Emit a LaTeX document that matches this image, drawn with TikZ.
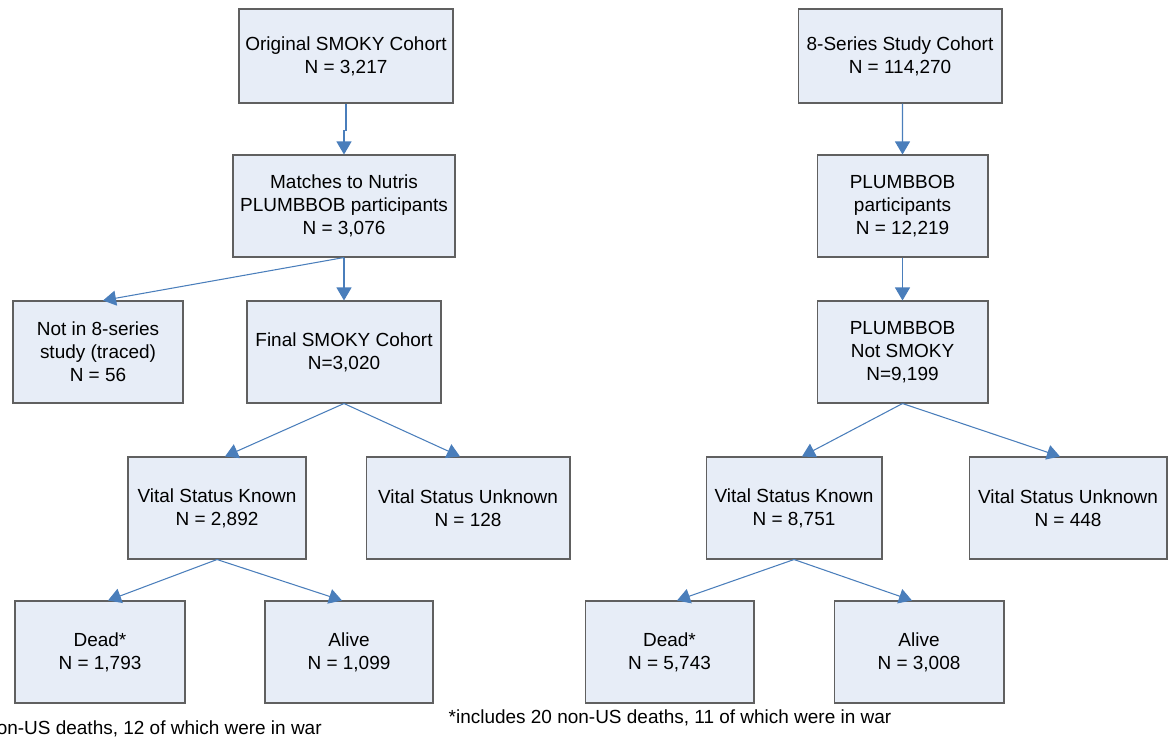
\documentclass[tikz,border=0pt]{standalone}
\usepackage{fontspec}
\setmainfont{Liberation Sans}
\usetikzlibrary{arrows.meta}
\definecolor{boxfill}{RGB}{231,237,247}
\definecolor{boxline}{RGB}{96,96,96}
\definecolor{linkblue}{RGB}{74,126,187}
\tikzset{
  box/.style={shape=rectangle, draw=boxline, fill=boxfill, line width=0.6pt, align=center,
    inner sep=0pt, minimum height=2.04cm, font=\fontsize{10.8}{13.1}\selectfont},
  link/.style={draw=linkblue, line width=0.6pt, -{Triangle[length=0.26cm,width=0.3cm]}},
  note/.style={font=\fontsize{10.8}{13.1}\selectfont, inner sep=0pt}
}
\begin{document}
\begin{tikzpicture}[x=0.02cm,y=-0.02cm]
            \useasboundingbox (0,0) rectangle (1175,741);
            % left tree
            \node[box, minimum width=4.28cm, minimum height=1.88cm] (orig) at (346,56) {Original SMOKY Cohort\\N = 3,217};
            \node[box, minimum width=4.44cm] (match) at (344,206) {Matches to Nutris\\PLUMBBOB participants\\N = 3,076};
            \node[box, minimum width=3.40cm] (notin) at (98,352) {Not in 8-series\\study (traced)\\N = 56};
            \node[box, minimum width=3.88cm] (final) at (344,352) {Final SMOKY Cohort\\N=3,020};
            \node[box, minimum width=3.56cm] (knownL) at (217,508) {Vital Status Known\\N = 2,892};
            \node[box, minimum width=4.08cm] (unknownL) at (468,508) {Vital Status Unknown\\N = 128};
            \node[box, minimum width=3.40cm] (deadL) at (100,652) {Dead*\\N = 1,793};
            \node[box, minimum width=3.36cm] (aliveL) at (349,652) {Alive\\N = 1,099};
            
            % right tree
            \node[box, minimum width=4.08cm, minimum height=1.88cm] (series) at (900,56) {8-Series Study Cohort\\N = 114,270};
            \node[box, minimum width=3.42cm] (plumb) at (902.5,206) {PLUMBBOB\\participants\\N = 12,219};
            \node[box, minimum width=3.42cm] (notsmoky) at (902.5,352) {PLUMBBOB\\Not SMOKY\\N=9,199};
            \node[box, minimum width=3.52cm] (knownR) at (794,508) {Vital Status Known\\N = 8,751};
            \node[box, minimum width=3.96cm] (unknownR) at (1068,508) {Vital Status Unknown\\N = 448};
            \node[box, minimum width=3.38cm] (deadR) at (669.5,652) {Dead*\\N = 5,743};
            \node[box, minimum width=3.40cm] (aliveR) at (919,652) {Alive\\N = 3,008};
            
            % footnotes
            \node[note, anchor=east] (noteL) at (322,729) {on-US deaths, 12 of which were in war};
            \node[note] (noteR) at (670,718) {*includes 20 non-US deaths, 11 of which were in war};
            
            % edges
            \draw [link] (orig.south) -- ++(0,27) -| (match.north);
            \path (match.south) edge[link] ([xshift=0.1cm]notin.north);
            \path (match.south) edge[link] (final.north);
            \path (final.south) edge[link] ([xshift=0.16cm]knownL.north);
            \path (final.south) edge[link] ([xshift=-0.16cm]unknownL.north);
            \path (knownL.south) edge[link] ([xshift=0.16cm]deadL.north);
            \path (knownL.south) edge[link] ([xshift=-0.14cm]aliveL.north);
            \path ([xshift=0.05cm]series.south) edge[link] (plumb.north);
            \path (plumb.south) edge[link] (notsmoky.north);
            \path (notsmoky.south) edge[link] ([xshift=0.16cm]knownR.north);
            \path (notsmoky.south) edge[link] ([xshift=-0.16cm]unknownR.north);
            \path (knownR.south) edge[link] ([xshift=0.15cm]deadR.north);
            \path (knownR.south) edge[link] ([xshift=-0.14cm]aliveR.north);
        \end{tikzpicture}
\end{document}
